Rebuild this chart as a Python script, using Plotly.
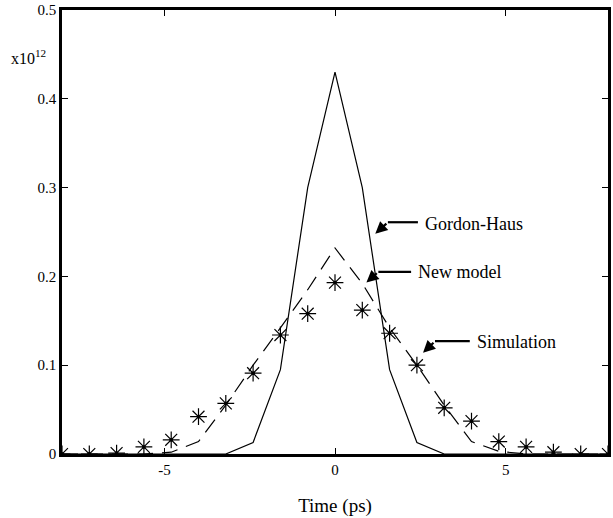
import plotly.graph_objects as go

# ---- data ----
time_ps = [-8.0, -7.2, -6.4, -5.6, -4.8, -4.0, -3.2, -2.4, -1.6, -0.8, 0.0,
           0.8, 1.6, 2.4, 3.2, 4.0, 4.8, 5.6, 6.4, 7.2, 8.0]
gordon_haus = [0, 0, 0, 0, 0, 0, 0, 0.013, 0.095, 0.30, 0.43,
               0.30, 0.095, 0.013, 0, 0, 0, 0, 0, 0, 0]
new_model = [0, 0, 0, 0, 0.002, 0.014, 0.055, 0.10, 0.142, 0.185, 0.232,
             0.192, 0.142, 0.10, 0.055, 0.014, 0.003, 0, 0, 0, 0]
simulation = [0, 0, 0.001, 0.008, 0.016, 0.042, 0.057, 0.091, 0.134, 0.158, 0.193,
              0.162, 0.136, 0.100, 0.052, 0.037, 0.014, 0.008, 0.002, 0, 0]

x_ticks = [-5, 0, 5]
x_tick_labels = ["-5", "0", "5"]
y_ticks = [0, 0.1, 0.2, 0.3, 0.4, 0.5]
y_tick_labels = ["0", "0.1", "0.2", "0.3", "0.4", "0.5"]

# label: (text, text-left x, text y, bend x, bend y, head x, head y)
labels = [
    ("Gordon-Haus", 2.58, 0.259, 1.55, 0.261, 1.18, 0.248),
    ("New model", 2.38, 0.205, 1.27, 0.205, 0.92, 0.193),
    ("Simulation", 4.10, 0.126, 2.93, 0.127, 2.58, 0.114),
]

FONT = "Liberation Serif"

fig = go.Figure()
fig.add_trace(go.Scatter(x=time_ps, y=gordon_haus, mode="lines",
                         line=dict(color="black", width=1.2), name="Gordon-Haus"))
fig.add_trace(go.Scatter(x=time_ps, y=new_model, mode="lines",
                         line=dict(color="black", width=1.2, dash="16px,9px"),
                         name="New model"))
fig.add_trace(go.Scatter(x=time_ps, y=simulation, mode="markers",
                         marker=dict(symbol="asterisk-open", size=14, color="black",
                                     line=dict(color="black", width=1.2)),
                         name="Simulation"))
fig.add_trace(go.Scatter(x=time_ps, y=simulation, mode="markers",
                         marker=dict(symbol="circle", size=3.5, color="black"),
                         name="Simulation centre", showlegend=False))

for text, tx, ty, bx, by, hx, hy in labels:
    fig.add_annotation(x=tx, y=ty, xref="x", yref="y", text=text, showarrow=False,
                       xanchor="left", yanchor="middle",
                       font=dict(family=FONT, size=18, color="black"))
    fig.add_shape(type="line", xref="x", yref="y", x0=bx, y0=by, x1=tx - 0.15, y1=by,
                  line=dict(color="black", width=2.2))
    fig.add_annotation(x=hx, y=hy, xref="x", yref="y", ax=bx, ay=by,
                       axref="x", ayref="y", text="", showarrow=True,
                       arrowhead=2, arrowsize=1.1, arrowwidth=2.2,
                       arrowcolor="black", standoff=0)

fig.add_annotation(x=-0.062, y=0.895, xref="paper", yref="paper",
                   text="x10<sup>12</sup>", showarrow=False,
                   xanchor="center", yanchor="middle",
                   font=dict(family=FONT, size=16, color="black"))

fig.update_layout(
    width=613, height=518,
    margin=dict(l=62, r=2, t=10, b=64),
    paper_bgcolor="white", plot_bgcolor="white",
    showlegend=False,
    font=dict(family=FONT, size=15, color="black"),
)
fig.update_xaxes(range=[-8, 8], tickvals=x_ticks, ticktext=x_tick_labels,
                 ticks="inside", ticklen=6, tickcolor="black", tickwidth=1,
                 showline=True, linecolor="black", linewidth=2.5, mirror="ticks",
                 showgrid=False, zeroline=False,
                 tickfont=dict(family=FONT, size=15),
                 title=dict(text="Time (ps)", font=dict(family=FONT, size=19),
                            standoff=22))
fig.update_yaxes(range=[0, 0.5], tickvals=y_ticks, ticktext=y_tick_labels,
                 ticks="inside", ticklen=6, tickcolor="black", tickwidth=1,
                 showline=True, linecolor="black", linewidth=2.5, mirror="ticks",
                 showgrid=False, zeroline=False,
                 tickfont=dict(family=FONT, size=15))

fig.write_html("out.html")
